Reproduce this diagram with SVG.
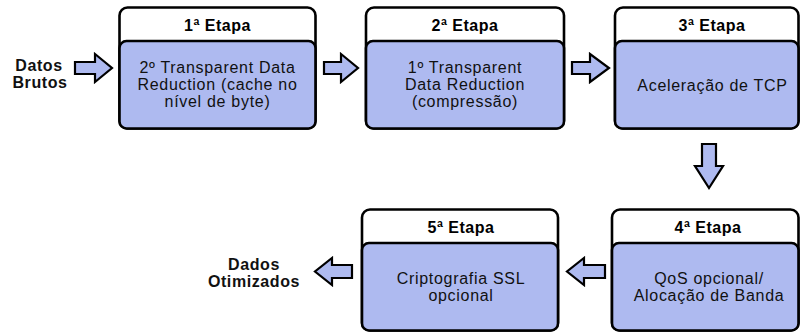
<svg xmlns="http://www.w3.org/2000/svg" width="800" height="332" viewBox="0 0 800 332">
<defs>
<style>
.frame{fill:#ffffff;stroke:#000;stroke-width:2.6}
.body{fill:#aebaf0;stroke:#000;stroke-width:2.6}
.arrow{fill:#aebaf0;stroke:#000;stroke-width:2.2;stroke-linejoin:miter}
.hd{font-family:"Liberation Sans",Arial,sans-serif;font-weight:bold;font-size:16px;letter-spacing:0.5px;fill:#000;text-anchor:middle}
.tx{font-family:"Liberation Sans",Arial,sans-serif;font-size:16px;letter-spacing:0.7px;fill:#111;text-anchor:middle}
.lb{font-family:"Liberation Sans",Arial,sans-serif;font-weight:bold;font-size:16px;letter-spacing:0.6px;fill:#111;text-anchor:middle}
</style>
</defs>
<rect width="800" height="332" fill="#ffffff"/>

<g id="connectors">
<path class="arrow" d="M75,62 H95 V54 L112,68 L95,82 V74 H75 Z"/>
<path class="arrow" d="M324,62 H341 V54 L358,68 L341,82 V74 H324 Z"/>
<path class="arrow" d="M572,62 H590 V54 L609,68 L590,82 V74 H572 Z"/>
<path class="arrow" d="M702,144 V166 H695 L709,188 L723,166 H716 V144 Z"/>
<path class="arrow" d="M605,265 H584 V258 L567,271.5 L584,285 V278 H605 Z"/>
<path class="arrow" d="M352,265 H332 V258 L315,271.5 L332,285 V278 H352 Z"/>
</g>

<g id="label-in">
<text class="lb" x="39" y="71">Datos</text>
<text class="lb" x="40" y="88">Brutos</text>
</g>
<g id="label-out">
<text class="lb" x="254" y="270">Dados</text>
<text class="lb" x="254" y="287">Otimizados</text>
</g>

<g id="etapa1">
<rect class="frame" x="119.5" y="7.5" width="196" height="121" rx="8"/>
<rect class="body" x="119.5" y="41" width="196" height="87.5" rx="7"/>
<text class="hd" x="217.5" y="31">1ª Etapa</text>
<text class="tx" x="217.5" y="73">2º Transparent Data</text>
<text class="tx" x="217.5" y="90">Reduction (cache no</text>
<text class="tx" x="217.5" y="107">nível de byte)</text>
</g>

<g id="etapa2">
<rect class="frame" x="366" y="7.5" width="198" height="121" rx="8"/>
<rect class="body" x="366" y="41" width="198" height="87.5" rx="7"/>
<text class="hd" x="465" y="31">2ª Etapa</text>
<text class="tx" x="465" y="73">1º Transparent</text>
<text class="tx" x="465" y="90">Data Reduction</text>
<text class="tx" x="465" y="107">(compressão)</text>
</g>

<g id="etapa3">
<rect class="frame" x="615" y="7.5" width="183.5" height="121" rx="8"/>
<rect class="body" x="615" y="41" width="183.5" height="87.5" rx="7"/>
<text class="hd" x="712" y="31">3ª Etapa</text>
<text class="tx" x="712.5" y="91">Aceleração de TCP</text>
</g>

<g id="etapa4">
<rect class="frame" x="612" y="209.5" width="186.5" height="121" rx="8"/>
<rect class="body" x="612" y="243" width="186.5" height="87.5" rx="7"/>
<text class="hd" x="708" y="233">4ª Etapa</text>
<text class="tx" x="709" y="284">QoS opcional/</text>
<text class="tx" x="709" y="301">Alocação de Banda</text>
</g>

<g id="etapa5">
<rect class="frame" x="362" y="209.5" width="196" height="121" rx="8"/>
<rect class="body" x="362" y="243" width="196" height="87.5" rx="7"/>
<text class="hd" x="461" y="233">5ª Etapa</text>
<text class="tx" x="461" y="284">Criptografia SSL</text>
<text class="tx" x="461" y="301">opcional</text>
</g>
</svg>
